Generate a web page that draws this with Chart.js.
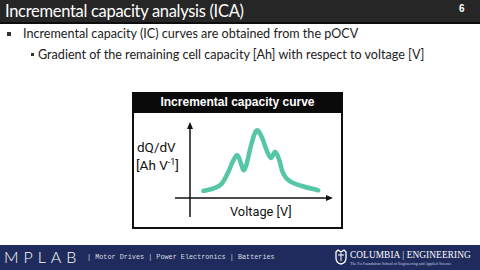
<!DOCTYPE html>
<html>
<head>
<meta charset="utf-8">
<script src="https://cdn.jsdelivr.net/npm/chart.js@4/dist/chart.umd.min.js"></script>
<style>
  html, body { margin: 0; padding: 0; }
  body { width: 480px; height: 270px; position: relative; overflow: hidden; background: #fff; font-family: Lato, "Open Sans", sans-serif; }
  .abs { position: absolute; white-space: nowrap; }
  #titlebar { left: 0; top: 0; width: 480px; height: 22px; background: #262626; border-bottom: 2px solid #0d0d0d; }
  #title { left: 5px; top: 1px; color: #fff; font-size: 16.5px; line-height: 20px; letter-spacing: -0.3px; }
  #pagenum { left: 459px; top: 3px; color: #fff; font-size: 10px; font-weight: bold; font-family: "Liberation Sans", sans-serif; }
  .bullet { width: 4px; height: 4px; background: #333; }
  .btxt { color: #222; font-size: 12.6px; line-height: 16px; }
  #box { left: 132px; top: 92px; width: 207px; height: 133px; border: 2px solid #111; background: #fff; }
  #boxhead { left: 132px; top: 92px; width: 211px; height: 21px; background: #0a0a0a; }
  #boxtitle { left: 132px; top: 94px; width: 211px; text-align: center; color: #fff; font-family: "Liberation Sans", Arial, sans-serif; font-weight: bold; font-size: 12px; line-height: 16px; }
  .axlbl { font-family: Roboto, "Liberation Sans", sans-serif; color: #111; font-size: 13.5px; line-height: 16px; }
  #chartwrap { left: 170px; top: 115px; width: 170px; height: 110px; }
  #footer { left: 0; top: 245px; width: 480px; height: 25px; background: #1e2b5c; }
  #mplab { left: 4px; top: 247px; color: #fff; font-size: 16px; font-weight: 300; letter-spacing: 5px; line-height: 19px; font-family: "Lato", sans-serif; }
  #ftxt { left: 87px; top: 252px; color: #d8dbe6; font-family: "Liberation Mono", "DejaVu Sans Mono", monospace; font-size: 6.8px; line-height: 10px; }
  #columbia { left: 350px; top: 250px; color: #fff; font-family: "Liberation Serif", serif; font-size: 9.3px; line-height: 11px; letter-spacing: 0.1px; }
  #colsub { left: 350px; top: 261px; color: #c8cce0; font-family: "Liberation Serif", serif; font-size: 4px; line-height: 5px; }
</style>
</head>
<body>
<div class="abs" id="titlebar"></div>
<div class="abs" id="title">Incremental capacity analysis (ICA)</div>
<div class="abs" id="pagenum">6</div>

<div class="abs bullet" style="left:7px; top:32px;"></div>
<div class="abs btxt" style="left:23px; top:26px;">Incremental capacity (IC) curves are obtained from the pOCV</div>
<div class="abs bullet" style="left:31px; top:53px; width:3px; height:3px;"></div>
<div class="abs btxt" style="left:38px; top:47px;">Gradient of the remaining cell capacity [Ah] with respect to voltage [V]</div>

<div class="abs" id="box"></div>
<div class="abs" id="boxhead"></div>
<div class="abs" id="boxtitle">Incremental capacity curve</div>
<div class="abs axlbl" style="left:137px; top:139px;">dQ/dV</div>
<div class="abs axlbl" style="left:136px; top:157px;">[Ah V<sup style="font-size:9px; line-height:0;">-1</sup>]</div>
<div class="abs axlbl" style="left:230px; top:204px; font-size:12.8px;">Voltage [V]</div>

<div class="abs" id="chartwrap"><canvas id="c" width="170" height="110"></canvas></div>

<div class="abs" id="footer"></div>
<div class="abs" id="mplab">MPLAB</div>
<div class="abs" id="ftxt">| Motor Drives | Power Electronics | Batteries</div>
<svg class="abs" style="left:335px; top:249px;" width="12" height="16" viewBox="0 0 12 16">
  <path d="M1 3 L3 1 L6 3 L9 1 L11 3 L11 9 Q11 14 6 15 Q1 14 1 9 Z" fill="none" stroke="#fff" stroke-width="1.3"/>
  <path d="M3 6 L9 6 M6 4 L6 12" stroke="#fff" stroke-width="1"/>
</svg>
<div class="abs" id="columbia">COLUMBIA | ENGINEERING</div>
<div class="abs" id="colsub">The Fu Foundation School of Engineering and Applied Science</div>

<script>
// Voltage positions (arbitrary units) and dQ/dV values
const voltage = [8.9, 16.7, 21.1, 25.5, 28.9, 31.5, 34.0, 35.8, 37.8, 40.7, 44.5, 47.8, 51.1, 54.0, 56.7, 59.3, 62.2, 66.7, 74.5, 85.5];
const dqdv    = [4.7, 6.7, 9.5, 17.3, 25.1, 28.5, 22.9, 18.5, 22.9, 35.1, 45.1, 40.7, 31.8, 26.7, 30.7, 25.8, 16.2, 11.1, 8.0, 5.1];
const xRange = [-10, 95.3];
const yRange = [-12.7, 50.7];

const axesArrows = {
  id: 'axesArrows',
  beforeDatasetsDraw(chart) {
    const {ctx, scales: {x, y}} = chart;
    const x0 = x.getPixelForValue(0), y0 = y.getPixelForValue(0);
    const left = x.getPixelForValue(xRange[0]), right = x.getPixelForValue(xRange[1]);
    const top = y.getPixelForValue(yRange[1]), bottom = y.getPixelForValue(yRange[0]);
    ctx.save();
    ctx.strokeStyle = '#111';
    ctx.fillStyle = '#111';
    ctx.lineWidth = 1.5;
    ctx.beginPath();
    ctx.moveTo(left, y0); ctx.lineTo(right - 4, y0);
    ctx.moveTo(x0, bottom); ctx.lineTo(x0, top + 4);
    ctx.stroke();
    ctx.beginPath();
    ctx.moveTo(right, y0); ctx.lineTo(right - 7, y0 - 3); ctx.lineTo(right - 7, y0 + 3); ctx.closePath();
    ctx.moveTo(x0, top); ctx.lineTo(x0 - 3, top + 7); ctx.lineTo(x0 + 3, top + 7); ctx.closePath();
    ctx.fill();
    ctx.restore();
  }
};

new Chart(document.getElementById('c'), {
  type: 'line',
  data: {
    datasets: [{
      data: voltage.map((v, i) => ({x: v, y: dqdv[i]})),
      borderColor: '#55c7a6',
      borderWidth: 4.5,
      pointRadius: 0,
      tension: 0.4,
      borderCapStyle: 'round',
      borderJoinStyle: 'round',
      fill: false,
      clip: false
    }]
  },
  options: {
    responsive: false,
    animation: false,
    devicePixelRatio: 1,
    layout: { padding: { left: 5, right: 7, top: 7, bottom: 8 } },
    plugins: { legend: { display: false }, tooltip: { enabled: false } },
    scales: {
      x: { type: 'linear', min: xRange[0], max: xRange[1], display: false },
      y: { type: 'linear', min: yRange[0], max: yRange[1], display: false }
    }
  },
  plugins: [axesArrows]
});
</script>
</body>
</html>
